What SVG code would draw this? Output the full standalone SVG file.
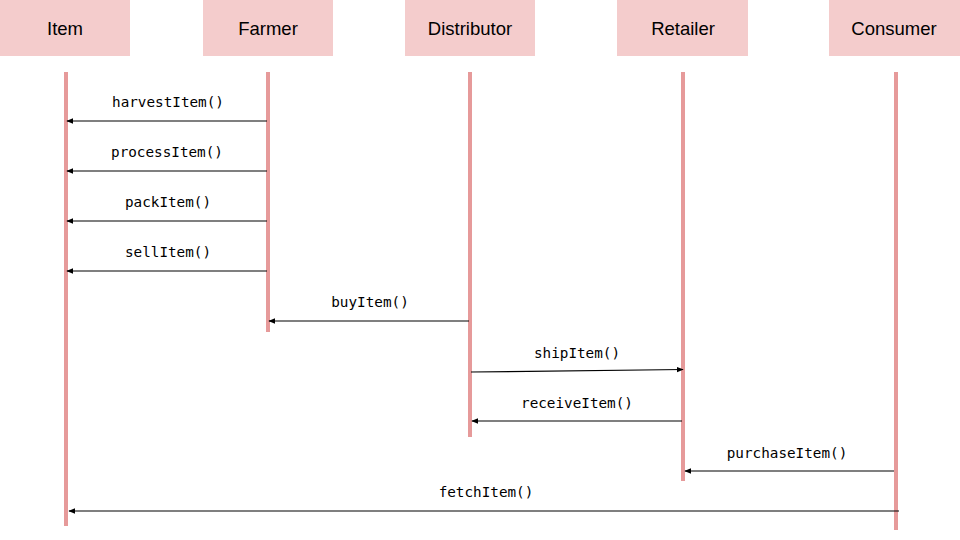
<svg xmlns="http://www.w3.org/2000/svg" width="960" height="540" viewBox="0 0 960 540">
<style>
.box{fill:#f4cccc}
.hd{font-family:"Liberation Sans",Arial,sans-serif;font-size:18.5px;fill:#000;text-anchor:middle}
.life{stroke:#e69a9a;stroke-width:4;fill:none}
.msg{stroke:#000;stroke-width:1.2;fill:none;marker-end:url(#ah)}
.lbl{font-family:"DejaVu Sans Mono","Liberation Mono",monospace;font-size:14.3px;fill:#000;text-anchor:middle}
</style>
<defs>
<marker id="ah" viewBox="0 0 10 10" refX="9" refY="5" markerWidth="7" markerHeight="7" markerUnits="userSpaceOnUse" orient="auto">
<path d="M0,1 L10,5 L0,9 z" fill="#000"/>
</marker>
</defs>
<rect width="960" height="540" fill="#fff"/>
<g id="item"><rect class="box" x="0" y="0" width="130" height="56"/><text class="hd" x="65" y="35">Item</text><line class="life" x1="66" y1="72" x2="66" y2="526"/></g>
<g id="farmer"><rect class="box" x="203" y="0" width="130" height="56"/><text class="hd" x="268" y="35">Farmer</text><line class="life" x1="268" y1="72" x2="268" y2="332"/></g>
<g id="distributor"><rect class="box" x="405" y="0" width="130" height="56"/><text class="hd" x="470" y="35">Distributor</text><line class="life" x1="470" y1="72" x2="470" y2="437"/></g>
<g id="retailer"><rect class="box" x="617" y="0" width="131" height="56"/><text class="hd" x="683" y="35">Retailer</text><line class="life" x1="683" y1="72" x2="683" y2="481"/></g>
<g id="consumer"><rect class="box" x="829" y="0" width="131" height="56"/><text class="hd" x="894" y="35">Consumer</text><line class="life" x1="896" y1="72" x2="896" y2="530"/></g>
<g id="connectors">
<line class="msg" x1="267" y1="121" x2="67" y2="121"/>
<text class="lbl" x="168" y="107">harvestItem()</text>
<line class="msg" x1="267" y1="171" x2="67" y2="171"/>
<text class="lbl" x="167" y="157">processItem()</text>
<line class="msg" x1="267" y1="221" x2="67" y2="221"/>
<text class="lbl" x="168" y="207">packItem()</text>
<line class="msg" x1="267" y1="271" x2="67" y2="271"/>
<text class="lbl" x="168" y="257">sellItem()</text>
<line class="msg" x1="469" y1="321" x2="269" y2="321"/>
<text class="lbl" x="370" y="307">buyItem()</text>
<line class="msg" x1="471" y1="372" x2="683" y2="369.5"/>
<text class="lbl" x="577" y="358">shipItem()</text>
<line class="msg" x1="682" y1="421" x2="472" y2="421"/>
<text class="lbl" x="577" y="408">receiveItem()</text>
<line class="msg" x1="894" y1="471" x2="685" y2="471"/>
<text class="lbl" x="787" y="458">purchaseItem()</text>
<line class="msg" x1="899" y1="511" x2="69" y2="511"/>
<text class="lbl" x="486" y="497">fetchItem()</text>
</g>
</svg>
